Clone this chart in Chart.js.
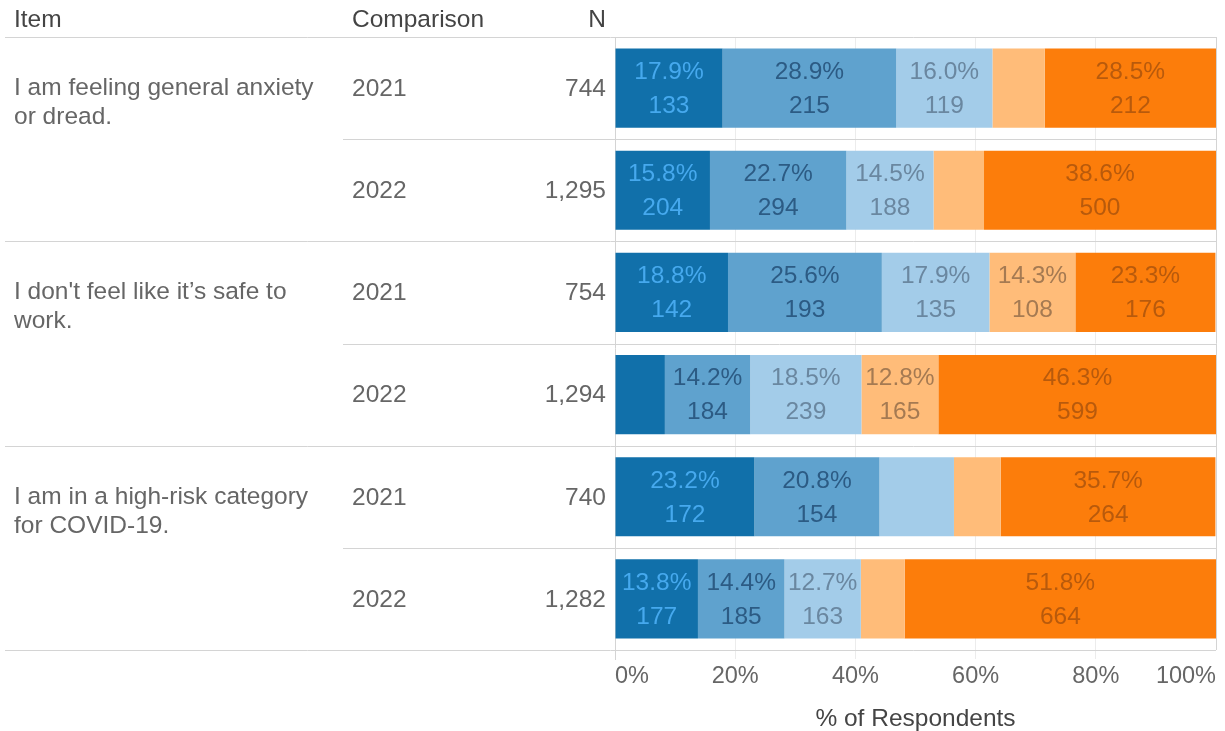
<!DOCTYPE html>
<html>
<head>
<meta charset="utf-8">
<script src="https://cdn.jsdelivr.net/npm/chart.js@4/dist/chart.umd.min.js"></script>
<style>
  html, body { margin: 0; padding: 0; background: #ffffff; }
  #wrap { width: 1225px; height: 731px; position: relative; }
</style>
</head>
<body>
<div id="wrap"><canvas id="c" width="1225" height="731"></canvas></div>
<script>
// ---- Data ----
const items = [
  ["I am feeling general anxiety", "or dread."],
  ["I don't feel like it\u2019s safe to", "work."],
  ["I am in a high-risk category", "for COVID-19."]
];
const comparisons = ["2021", "2022", "2021", "2022", "2021", "2022"];
const nValues = [744, 1295, 754, 1294, 740, 1282];
const seriesNames = ["Strongly Agree", "Agree", "Neutral", "Disagree", "Strongly Disagree"];

// percentages (%) per segment, one array per response level
const pct1 = [17.9, 15.8, 18.8, 8.3, 23.2, 13.8];
const pct2 = [28.9, 22.7, 25.6, 14.2, 20.8, 14.4];
const pct3 = [16.0, 14.5, 17.9, 18.5, 12.4, 12.7];
const pct4 = [8.7, 8.4, 14.3, 12.8, 7.8, 7.3];
const pct5 = [28.5, 38.6, 23.3, 46.3, 35.7, 51.8];

// respondent counts per segment
const cnt1 = [133, 204, 142, 107, 172, 177];
const cnt2 = [215, 294, 193, 184, 154, 185];
const cnt3 = [119, 188, 135, 239, 92, 163];
const cnt4 = [65, 109, 108, 165, 58, 93];
const cnt5 = [212, 500, 176, 599, 264, 664];

const xTicks = [0, 20, 40, 60, 80, 100];

// ---- Styles ----
const FONT = "'Liberation Sans', Arial, sans-serif";
const FS = "24.5px ";
const fills = ["#1170aa", "#5fa2ce", "#a3cce9", "#ffbc79", "#fc7d0b"];
const labelColors = ["#46a9ee", "#2c5b84", "#6a87a0", "#a57a52", "#b85a0c"];
const pcts = [pct1, pct2, pct3, pct4, pct5];
const cnts = [cnt1, cnt2, cnt3, cnt4, cnt5];
const LINE = "#d4d4d4";
const LABEL_MIN = 12.5;

const datasets = seriesNames.map((name, i) => ({
  label: name,
  data: pcts[i],
  counts: cnts[i],
  backgroundColor: fills[i],
  borderWidth: 0,
  barPercentage: 0.775,
  categoryPercentage: 1.0
}));

const tablePlugin = {
  id: 'tablePlugin',
  beforeDatasetsDraw(chart) {
    const ctx = chart.ctx;
    const ca = chart.chartArea;
    const y = chart.scales.y;
    const n = comparisons.length;
    const band = (ca.bottom - ca.top) / n;
    ctx.save();
    ctx.strokeStyle = LINE;
    ctx.lineWidth = 1;
    const hl = (x0, x1, yy) => { ctx.beginPath(); ctx.moveTo(x0, Math.round(yy) + 0.5); ctx.lineTo(x1, Math.round(yy) + 0.5); ctx.stroke(); };
    hl(5, ca.right, ca.top);
    for (let i = 0; i < n; i++) {
      const bottom = y.getPixelForValue(i) + band / 2;
      if (i % 2 === 1) hl(5, ca.right, bottom);
      else hl(343, ca.right, bottom);
    }
    const vl = (xx, y0, y1) => { ctx.beginPath(); ctx.moveTo(Math.round(xx) + 0.5, y0); ctx.lineTo(Math.round(xx) + 0.5, y1); ctx.stroke(); };
    vl(ca.left, ca.top, ca.bottom + 10);
    vl(ca.right, ca.top, ca.bottom);
    ctx.restore();
  },
  afterDatasetsDraw(chart) {
    const ctx = chart.ctx;
    const y = chart.scales.y;
    ctx.save();
    // headers
    ctx.font = FS + FONT;
    ctx.textBaseline = 'middle';
    ctx.fillStyle = '#444444';
    ctx.textAlign = 'left';
    ctx.fillText('Item', 14, 20);
    ctx.fillText('Comparison', 352, 20);
    ctx.textAlign = 'right';
    ctx.fillText('N', 606, 20);

    // table body
    ctx.fillStyle = '#666666';
    for (let i = 0; i < comparisons.length; i++) {
      const cy = y.getPixelForValue(i) + 1;
      ctx.textAlign = 'left';
      ctx.fillText(comparisons[i], 352, cy);
      ctx.textAlign = 'right';
      ctx.fillText(nValues[i].toLocaleString('en-US'), 606, cy);
    }
    ctx.textAlign = 'left';
    items.forEach((lines, g) => {
      const cy = y.getPixelForValue(g * 2);
      lines.forEach((ln, k) => ctx.fillText(ln, 14, cy + k * 29));
    });

    // segment labels
    chart.data.datasets.forEach((ds, di) => {
      const meta = chart.getDatasetMeta(di);
      meta.data.forEach((bar, i) => {
        const v = ds.data[i];
        if (v < LABEL_MIN) return;
        const cx = (bar.x + bar.base) / 2;
        ctx.fillStyle = labelColors[di];
        ctx.textAlign = 'center';
        ctx.fillText(v.toFixed(1) + '%', cx, bar.y - 16);
        ctx.fillText(String(ds.counts[i]), cx, bar.y + 18);
      });
    });
    ctx.restore();
  }
};

new Chart(document.getElementById('c'), {
  type: 'bar',
  data: { labels: comparisons.map((c, i) => 'r' + i), datasets },
  options: {
    indexAxis: 'y',
    responsive: false,
    devicePixelRatio: 1,
    animation: false,
    layout: { padding: { left: 615, right: 9, top: 37, bottom: 0 } },
    plugins: { legend: { display: false }, tooltip: { enabled: false }, title: { display: false } },
    scales: {
      y: { type: 'category', stacked: true, display: false, offset: true },
      x: {
        type: 'linear',
        stacked: true,
        min: 0,
        max: 100,
        afterFit(scale) { scale.height = 81; },
        afterBuildTicks(scale) { scale.ticks = xTicks.map(v => ({ value: v })); },
        border: { display: false },
        grid: {
          color: (c) => (c.tick && (c.tick.value === 0 || c.tick.value === 100)) ? 'rgba(0,0,0,0)' : '#ececec',
          drawTicks: true,
          tickLength: 9,
          lineWidth: 1
        },
        ticks: {
          align: 'inner',
          padding: 3,
          color: '#666666',
          font: { family: FONT, size: 23.5 },
          callback: (v) => v + '%'
        },
        title: {
          display: true,
          text: '% of Respondents',
          color: '#444444',
          padding: { top: 0, bottom: 0 },
          font: { family: FONT, size: 24.5, lineHeight: 1.0 }
        }
      }
    }
  },
  plugins: [tablePlugin]
});
</script>
</body>
</html>
